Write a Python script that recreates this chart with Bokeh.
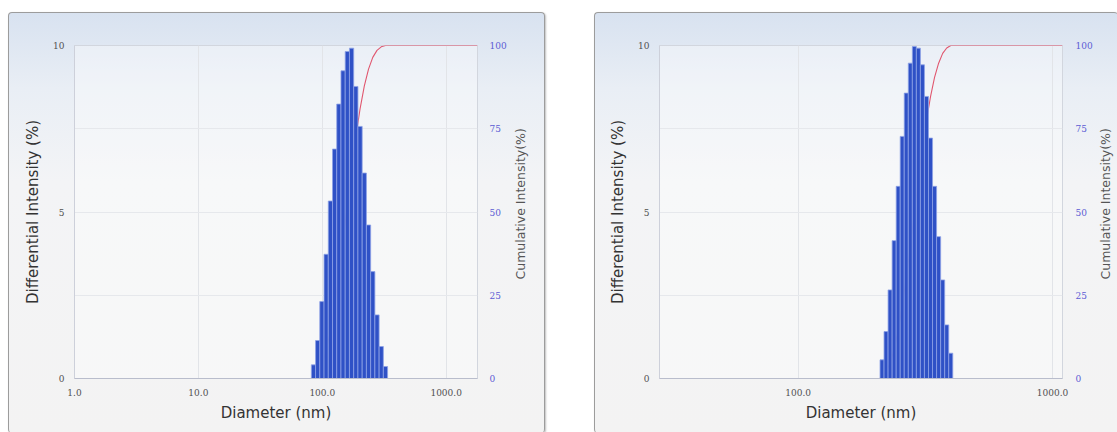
import numpy as np
from bokeh.plotting import figure
from bokeh.models import Range1d, LinearAxis, FixedTicker, Title
from bokeh.layouts import row
from bokeh.embed import file_html
from bokeh.resources import INLINE

# ---------------- data ----------------
left_diameter_nm = [84.9, 91.8, 99.3, 107.5, 116.3, 125.8, 136.1, 147.2, 159.3,
                    172.4, 186.5, 201.8, 218.3, 236.2, 255.5, 276.5, 299.1, 323.6]
left_intensity = [0.41, 1.14, 2.31, 3.73, 5.33, 6.89, 8.24, 9.24, 9.82,
                  9.92, 8.77, 7.57, 6.17, 4.61, 3.21, 1.91, 0.96, 0.36]
left_x_range = [1.0, 1790.0]
left_x_ticks = [1, 10, 100, 1000]
left_x_tick_labels = ["1.0", "10.0", "100.0", "1000.0"]

right_diameter_nm = [213.6, 221.5, 229.8, 238.4, 247.3, 256.4, 266.0, 276.0, 286.2,
                     296.8, 307.9, 319.3, 331.3, 343.6, 356.5, 369.8, 383.6, 397.9]
right_intensity = [0.56, 1.41, 2.66, 4.14, 5.77, 7.27, 8.57, 9.47, 9.97,
                   9.92, 9.42, 8.47, 7.22, 5.77, 4.26, 2.96, 1.61, 0.76]
right_x_range = [28.5, 1094.0]
right_x_ticks = [100, 1000]
right_x_tick_labels = ["100.0", "1000.0"]

y_ticks = [0, 5, 10]
y_tick_labels = ["0", "5", "10"]
cum_ticks = [0, 25, 50, 75, 100]
cum_tick_labels = ["0", "25", "50", "75", "100"]

x_title = "Diameter (nm)"
y_title = "Differential Intensity (%)"
cum_title = "Cumulative Intensity(%)"

TITLE_FONT = "DejaVu Sans"
TICK_FONT = "DejaVu Serif"
BAR_FILL = "#2f51c6"
BAR_LINE = "#8ea2e6"
CUM_COLOR = "#e0576f"
RIGHT_TICK_COLOR = "#5c5cd4"

FIG_H = 420
MB_TOP = 32
MB_BOTTOM = 55


def no_ticks(ax):
    ax.major_tick_line_color = None
    ax.minor_tick_line_color = None
    ax.major_tick_out = 0
    ax.major_tick_in = 0
    ax.minor_tick_out = 0
    ax.minor_tick_in = 0


def make_chart(diam, vals, xr, xticks, xlabels, width, mb_left, mb_right, r_label_standoff):
    p = figure(width=width, height=FIG_H, x_axis_type="log",
               x_range=Range1d(*xr), y_range=Range1d(0, 10),
               output_backend="svg", toolbar_location=None,
               min_border_left=mb_left, min_border_right=mb_right,
               min_border_top=MB_TOP, min_border_bottom=MB_BOTTOM)
    p.extra_y_ranges = {"cum": Range1d(0, 100)}

    d = np.array(diam, dtype=float)
    v = np.array(vals, dtype=float)
    logd = np.log10(d)
    mids = (logd[:-1] + logd[1:]) / 2
    step0 = logd[1] - logd[0]
    step1 = logd[-1] - logd[-2]
    edges = np.concatenate([[logd[0] - step0 / 2], mids, [logd[-1] + step1 / 2]])
    lefts = 10 ** edges[:-1]
    rights = 10 ** edges[1:]

    cum = np.cumsum(v) / v.sum() * 100
    cx = np.concatenate([[xr[0], lefts[0]], d, [rights[-1], xr[1]]])
    cy = np.concatenate([[0.0, 0.0], cum, [100.0, 100.0]])

    p.line(cx, cy, y_range_name="cum", line_color=CUM_COLOR, line_width=1.1)
    p.quad(left=lefts, right=rights, bottom=0, top=v,
           fill_color=BAR_FILL, line_color=BAR_LINE, line_width=0.8)

    p.border_fill_alpha = 0
    p.background_fill_color = "white"
    p.background_fill_alpha = 0.35
    p.outline_line_color = "#d2d6de"
    p.outline_line_width = 1

    p.xgrid.ticker = FixedTicker(ticks=xticks)
    p.ygrid.ticker = FixedTicker(ticks=[2.5, 5, 7.5])
    p.xgrid.grid_line_color = "#e2e4e8"
    p.ygrid.grid_line_color = "#e6e8ec"

    xa = p.xaxis[0]
    xa.ticker = FixedTicker(ticks=xticks)
    xa.major_label_overrides = {t: l for t, l in zip(xticks, xlabels)}
    no_ticks(xa)
    xa.axis_line_color = "#b9bdcc"
    xa.major_label_standoff = 10
    xa.major_label_text_font = TICK_FONT
    xa.major_label_text_font_size = "9px"
    xa.major_label_text_color = "#505050"
    xa.axis_label = x_title
    xa.axis_label_text_font = TITLE_FONT
    xa.axis_label_text_font_size = "15px"
    xa.axis_label_text_font_style = "normal"
    xa.axis_label_text_color = "#333333"
    xa.axis_label_standoff = 5

    ya = p.yaxis[0]
    ya.ticker = FixedTicker(ticks=y_ticks)
    ya.major_label_overrides = {t: l for t, l in zip(y_ticks, y_tick_labels)}
    no_ticks(ya)
    ya.axis_line_color = "#cdd0da"
    ya.major_label_standoff = 10
    ya.major_label_text_font = TICK_FONT
    ya.major_label_text_font_size = "9px"
    ya.major_label_text_color = "#505050"
    ya.axis_label = y_title
    ya.axis_label_text_font = TITLE_FONT
    ya.axis_label_text_font_size = "15px"
    ya.axis_label_text_font_style = "normal"
    ya.axis_label_text_color = "#333333"
    ya.axis_label_standoff = 8

    ra = LinearAxis(y_range_name="cum", ticker=FixedTicker(ticks=cum_ticks))
    ra.major_label_overrides = {t: l for t, l in zip(cum_ticks, cum_tick_labels)}
    no_ticks(ra)
    ra.axis_line_color = None
    ra.major_label_standoff = r_label_standoff
    ra.major_label_text_font = TICK_FONT
    ra.major_label_text_font_size = "9px"
    ra.major_label_text_color = RIGHT_TICK_COLOR
    p.add_layout(ra, "right")
    return p


def make_side_title(width, mb_left):
    # narrow companion figure that only carries the rotated right-hand title
    t = figure(width=width, height=FIG_H, output_backend="svg", toolbar_location=None,
               min_border_left=mb_left, min_border_right=0,
               min_border_top=MB_TOP, min_border_bottom=MB_BOTTOM)
    t.xaxis.visible = False
    t.yaxis.visible = False
    t.grid.visible = False
    t.outline_line_color = None
    t.background_fill_alpha = 0
    t.border_fill_alpha = 0
    t.add_layout(Title(text=cum_title, align="left", offset=99, text_font=TITLE_FONT,
                       text_font_size="12.5px", text_font_style="normal",
                       text_color="#555555", standoff=0), "left")
    return t


PANEL_STYLE = {
    "background": "linear-gradient(to bottom, #d8e2f0 0%, #e9eef5 18%, #f3f4f6 40%, #f3f3f3 100%)",
    "border": "1px solid #9c9c9c",
    "border-bottom": "none",
    "border-radius": "4px",
    "box-shadow": "1px 1px 2px rgba(0,0,0,0.25)",
}

p1 = make_chart(left_diameter_nm, left_intensity, left_x_range, left_x_ticks,
                left_x_tick_labels, 500, 65, 30, 12)
t1 = make_side_title(35, 18)
panel1 = row(p1, t1, styles=dict(PANEL_STYLE))
panel1.margin = (12, 0, 0, 8)

p2 = make_chart(right_diameter_nm, right_intensity, right_x_range, right_x_ticks,
                right_x_tick_labels, 500, 64, 32, 13)
t2 = make_side_title(23, 16)
style2 = dict(PANEL_STYLE)
style2["border-right"] = "none"
panel2 = row(p2, t2, styles=style2)
panel2.margin = (12, 0, 0, 49)

layout = row(panel1, panel2)
open("out.html", "w").write(file_html(layout, INLINE))
